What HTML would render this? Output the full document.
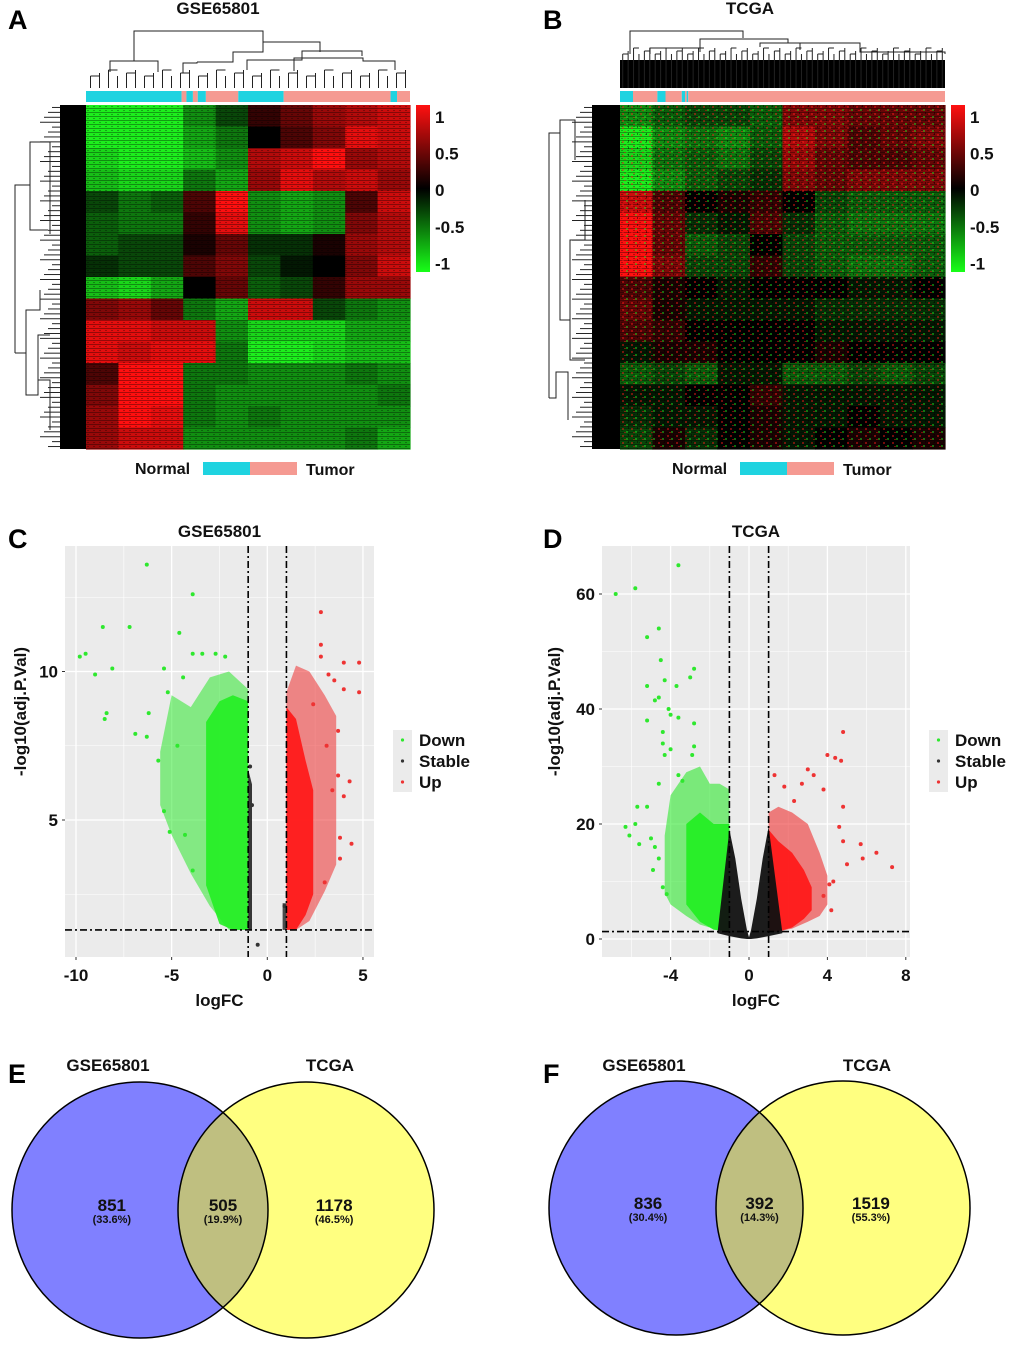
<!DOCTYPE html>
<html><head><meta charset="utf-8"><style>
html,body{margin:0;padding:0;background:#fff}
svg{display:block;font-family:"Liberation Sans",Arial,sans-serif}
.b{font-weight:bold}
</style></head><body>
<svg id="fig" width="1020" height="1347" viewBox="0 0 1020 1347" xmlns="http://www.w3.org/2000/svg">
<defs>
<pattern id="rowTex" width="6" height="4" patternUnits="userSpaceOnUse"><rect x="0" y="0" width="6" height="1" fill="#000" opacity="0.35"/><rect x="3" y="2" width="2" height="1" fill="#000" opacity="0.3"/></pattern>
<pattern id="speck" width="9" height="7" patternUnits="userSpaceOnUse"><rect x="1" y="1" width="2" height="2" fill="#ff1a1a"/><rect x="5" y="4" width="2" height="2" fill="#22ee22"/><rect x="7" y="0" width="1" height="2" fill="#000"/><rect x="3" y="5" width="2" height="1" fill="#ff1a1a"/></pattern>
<linearGradient id="cbar" x1="0" y1="0" x2="0" y2="1"><stop offset="0" stop-color="#ff1010"/><stop offset="0.5" stop-color="#000"/><stop offset="1" stop-color="#18ff18"/></linearGradient>
<clipPath id="clipC"><rect x="65" y="546" width="309" height="411"/></clipPath>
<clipPath id="clipD"><rect x="602" y="546" width="308" height="411"/></clipPath>
</defs>
<g id="root"></g>
</svg>
<script>
// ===== Heatmap data (block-averaged expression, -1..1) =====
const hmA = [
[-1,-1,-1,-0.6,-0.3,0.2,0.4,0.6,0.7,0.8],
[-1,-1,-1,-0.7,-0.5,0,0.3,0.5,0.9,0.8],
[-0.9,-1,-1,-0.8,-0.6,0.7,0.8,1,0.6,0.7],
[-0.8,-0.9,-0.9,-0.5,-0.7,0.6,0.9,0.7,0.8,0.6],
[-0.3,-0.5,-0.4,0.3,1,-0.6,-0.7,-0.6,0.3,0.8],
[-0.4,-0.5,-0.5,0.2,0.9,-0.6,-0.7,-0.6,0.5,0.7],
[-0.4,-0.3,-0.3,0.1,0.4,-0.2,-0.2,0.1,0.6,0.7],
[-0.2,-0.3,-0.3,0.3,0.5,-0.3,-0.1,0,0.5,0.8],
[-0.8,-0.9,-0.7,0,0.4,-0.4,-0.3,0.2,0.6,0.6],
[0.5,0.6,0.4,-0.5,-0.7,0.8,0.8,-0.3,-0.5,-0.6],
[0.9,0.9,0.8,0.8,-0.6,-0.9,-0.9,-0.9,-0.7,-0.7],
[0.9,0.8,0.9,0.9,-0.5,-1,-1,-0.9,-0.8,-0.8],
[0.3,1,1,-0.5,-0.5,-0.6,-0.6,-0.6,-0.5,-0.6],
[0.5,1,1,-0.5,-0.6,-0.6,-0.6,-0.6,-0.6,-0.5],
[0.6,1,0.9,-0.5,-0.6,-0.5,-0.6,-0.6,-0.6,-0.6],
[0.6,0.8,0.8,-0.6,-0.6,-0.6,-0.6,-0.6,-0.5,-0.7]];
const hmB = [
[-0.6,-0.4,-0.3,-0.3,-0.4,0.5,0.5,0.4,0.4,0.4],
[-1,-0.6,-0.5,-0.6,-0.4,0.7,0.5,0.3,0.4,0.5],
[-0.9,-0.5,-0.4,-0.5,-0.3,0.6,0.4,0.3,0.3,0.4],
[-1,-0.6,-0.4,-0.3,-0.2,0.5,0.4,0.5,0.5,0.5],
[0.8,0.3,0,0.1,0.2,0,-0.3,-0.4,-0.4,-0.4],
[1,0.4,-0.2,-0.1,0.3,-0.2,-0.4,-0.5,-0.5,-0.5],
[1,0.4,-0.4,-0.3,0,-0.3,-0.4,-0.4,-0.4,-0.4],
[1,0.5,-0.3,-0.3,0.2,-0.3,-0.4,-0.5,-0.5,-0.4],
[0.3,0.1,0,-0.1,0,0,0,-0.1,-0.1,0],
[0.4,0.1,-0.1,-0.1,-0.1,-0.1,-0.2,-0.2,-0.2,-0.2],
[0.3,0.2,0,0,0,0,-0.1,-0.1,-0.1,-0.1],
[-0.1,0.1,0.1,0,0,0,0.1,0,0,0],
[-0.4,-0.3,-0.4,-0.1,-0.1,-0.4,-0.4,-0.3,-0.4,-0.3],
[-0.1,-0.1,0,0,0.2,-0.1,-0.1,-0.1,-0.1,-0.1],
[-0.2,-0.1,-0.1,0,0.1,-0.1,-0.1,0,-0.1,-0.1],
[-0.3,0.1,-0.2,0,0.1,-0.1,0,0.1,0,0.1]];
// sample group annotation segments: [fraction start, fraction end, group]
const annA = [[0,0.295,"N"],[0.295,0.31,"T"],[0.31,0.33,"N"],[0.33,0.345,"T"],[0.345,0.37,"N"],[0.37,0.47,"T"],[0.47,0.61,"N"],[0.61,0.94,"T"],[0.94,0.96,"N"],[0.96,1,"T"]];
const annB = [[0,0.04,"N"],[0.04,0.115,"T"],[0.115,0.14,"N"],[0.14,0.19,"T"],[0.19,0.2,"N"],[0.2,0.205,"T"],[0.205,0.21,"N"],[0.21,1,"T"]];
const cbTicks = ["1","0.5","0","-0.5","-1"];

// ===== Volcano C data =====
const cDownPts = [[-9.8,10.5],[-9.5,10.6],[-9,9.9],[-8.6,11.5],[-8.5,8.4],[-8.4,8.6],[-8.1,10.1],[-7.2,11.5],[-6.9,7.9],[-6.3,7.8],[-6.2,8.6],[-6.3,13.6],[-5.4,10.1],[-4.6,11.3],[-3.9,12.6],[-3.9,10.6],[-3.4,10.6],[-2.7,10.6],[-2.2,10.5],[-5.2,9.3],[-5.4,5.3],[-5.7,7.0],[-5.1,4.6],[-4.4,9.8],[-4.3,4.5],[-4.7,7.5],[-3.9,3.3]];
const cUpPts = [[2.8,12],[2.8,10.9],[2.8,10.5],[4,10.3],[4.8,10.3],[4.8,9.3],[3.5,9.7],[3.2,9.9],[4,9.4],[3.7,8],[4.3,6.3],[4,5.8],[3.8,4.4],[3.8,3.7],[3,2.9],[4.4,4.2],[3.4,6],[3.7,6.5],[3.1,7.5],[2.4,8.9]];
const cStablePts = [[-0.5,0.8],[-0.9,6.8],[-0.8,5.5],[0.9,2.1]];
// envelopes: [logFC, low, high]
const cDownOuter = [[-5.6,5.5,7.3],[-5,4.5,9.2],[-4,3.2,8.8],[-3,2.1,9.8],[-2,1.3,10],[-1,1.3,9.4]];
const cDownCore = [[-3.2,2.8,8.3],[-2.5,1.5,9.0],[-1.8,1.3,9.2],[-1,1.3,9.0]];
const cUpOuter = [[1,1.3,9.3],[1.5,1.3,10.2],[2.2,1.6,10.0],[3,2.6,9.2],[3.6,3.5,8.5]];
const cUpCore = [[1,1.3,8.8],[1.5,1.3,8.4],[2,1.8,7.0],[2.4,2.5,6.0]];
const cStable = [[-1,1.3,6.7],[-0.8,1.3,6.2]];
const cStable2 = [[0.8,1.3,2.2],[1,1.3,2.2]];
const cXTicks = [-10,-5,0,5];
const cYTicks = [5,10];

// ===== Volcano D data =====
const dDownPts = [[-6.8,60],[-5.8,61],[-3.6,65],[-5.2,52.5],[-4.6,54],[-4.5,48.5],[-2.8,47],[-4.3,45],[-3.7,44],[-5.2,44],[-3,45.5],[-4.6,42],[-4.8,41.5],[-4.1,40],[-4,39],[-5.2,38],[-3.6,38.5],[-2.8,37.5],[-4.4,36],[-4.4,34],[-2.8,33.5],[-4,33],[-2.9,32],[-4.3,32],[-6.3,19.5],[-6.1,18],[-5.8,20],[-5.7,23],[-5.6,16.5],[-5,17.5],[-4.8,16],[-4.6,14],[-4.4,9],[-4.2,7.8],[-4.6,27],[-3.4,27.5],[-3.6,28.5],[-5.2,23],[-4.9,12]];
const dUpPts = [[4.8,36],[4,32],[4.4,31.5],[4.7,31],[3.8,26],[3,29.5],[3.3,28.5],[2.3,24],[1.3,28.5],[5.7,16.5],[5.8,14],[6.5,15],[7.3,12.5],[5,13],[4.8,23],[4.6,19.5],[4.3,10],[3.8,7.5],[4.2,5],[4.1,9.5],[4.8,17],[2.7,27],[1.8,26.5]];
const dDownOuter = [[-4.3,8,18],[-4,6,25],[-3.2,4,29],[-2.5,2.5,30],[-2,2,27],[-1.5,1.5,27],[-1,1.3,26]];
const dDownCore = [[-3.2,6,20],[-2.5,3,22],[-1.8,1.6,20],[-1,1.3,20]];
const dUpOuter = [[1,1.3,22],[1.5,1.3,23],[2.2,1.8,22],[3,3,20],[3.6,4,15],[4,6,11]];
const dUpCore = [[1,1.3,19],[1.5,1.3,17],[2.2,2,15],[2.8,3.5,12],[3.2,5,9]];
const dStableL = [[-1.6,1,1.2],[-1,0.5,19],[-0.7,0.3,14],[-0.4,0.1,7],[-0.1,0,1.5],[0,0,0.3]];
const dStableR = [[0,0,0.3],[0.1,0,1.5],[0.4,0.1,7],[0.7,0.3,14],[1,0.5,19.5],[1.7,1,1.2]];
const dXTicks = [-4,0,4,8];
const dYTicks = [0,20,40,60];

// ===== Venn data =====
const vennE = {left:"GSE65801", right:"TCGA", counts:[851,505,1178], pct:["33.6%","19.9%","46.5%"]};
const vennF = {left:"GSE65801", right:"TCGA", counts:[836,392,1519], pct:["30.4%","14.3%","55.3%"]};

const NS = "http://www.w3.org/2000/svg";
const root = document.getElementById("root");
function mk(tag, attrs, parent){const e=document.createElementNS(NS,tag);for(const k in attrs)e.setAttribute(k,attrs[k]);(parent||root).appendChild(e);return e;}
function txt(x,y,s,size,opts,parent){const o=Object.assign({x:x,y:y,"font-size":size,"font-weight":"bold",fill:"#111"},opts||{});const t=mk("text",o,parent);t.textContent=s;return t;}

function col(v){
  if(v>=0){const r=Math.round(255*Math.min(1,v));return `rgb(${r},${Math.round(r*0.06)},${Math.round(r*0.06)})`;}
  const g=Math.round(238*Math.min(1,-v));return `rgb(${Math.round(g*0.12)},${g},${Math.round(g*0.12)})`;
}

// panel letters
[["A",8,29],["B",543,29],["C",8,548],["D",543,548],["E",8,1083],["F",543,1083]].forEach(p=>{
  const t=txt(p[1],p[2],p[0],27,{fill:"#000"});
  
  
});

function heatmap(id, data, ann, x0, y0, w, h, speckle, cbx, titleX, title, legX){
  const g=mk("g",{});
  
  
  const nr=data.length, nc=data[0].length, cw=w/nc, rh=h/nr;
  data.forEach((row,i)=>row.forEach((v,j)=>{
    const r=mk("rect",{x:(x0+j*cw).toFixed(2),y:(y0+i*rh).toFixed(2),width:(cw+0.6).toFixed(2),height:(rh+0.6).toFixed(2),fill:col(v)},g);
    
    
  }));
  mk("rect",{x:x0,y:y0,width:w,height:h,fill:"url(#rowTex)"},g);
  if(speckle) mk("rect",{x:x0,y:y0,width:w,height:h,fill:"url(#speck)",opacity:0.45},g);
  // annotation bar
  ann.forEach(a=>{
    const r=mk("rect",{x:x0+a[0]*w,y:y0-14,width:(a[1]-a[0])*w,height:11,fill:a[2]=="N"?"#1fd3e0":"#f59a92"},g);
    
    
  });
  // colorbar
  const cb=mk("rect",{x:cbx,y:y0,width:14,height:167,fill:"url(#cbar)"},g);
  
  
  cbTicks.forEach((s,i)=>{const t=txt(cbx+19,y0+18+i*36.6,s,17,{},g);});
  const tt=txt(titleX,y0-91,title,17,{"text-anchor":"middle"},g);
  
  // legend
  const ly=y0+357;
  const l1=txt(legX,ly+12,"Normal",16,{},g);
  mk("rect",{x:legX+68,y:ly,width:47,height:13,fill:"#1fd3e0"},g);
  mk("rect",{x:legX+115,y:ly,width:47,height:13,fill:"#f59a92"},g);
  const l2=txt(legX+171,ly+13,"Tumor",16,{},g);
  return g;
}
heatmap("heatmap-gse65801",hmA,annA,86,105,324,344,false,416,218,"GSE65801",135);
heatmap("heatmap-tcga",hmB,annB,620,105,325,344,true,951,750,"TCGA",672);

// dendrograms
function colDendro(x0,w,yBot,dense,gname){
  const g=mk("g",{stroke:"#222","stroke-width":1,fill:"none"});
  
  if(dense){ mk("rect",{x:x0,y:yBot-28,width:w,height:28,fill:"#000",stroke:"none"},g); }
  const n=dense?60:36;
  for(let i=0;i<n;i++){const x=x0+(i+0.5)*w/n;mk("path",{d:`M${x} ${yBot} V${yBot-(dense?34:12)-(i%3)*3}`},g);}
  for(let i=0;i<n;i+=2){const x=x0+(i+0.5)*w/n,x2=x0+(i+1.5)*w/n,yy=yBot-(dense?34:12)-(i%3)*3;mk("path",{d:`M${x} ${yy} H${x2}`},g);}
  return g;
}
const dA=colDendro(86,324,88,false,"column-dendrogram-a");
[["M110 72 V61 H158 V72","M134 61 V31 H263 V50","M197 62 H233 V52 H263 V42 H320 V52","M183 73 V63 H197 V62","M247 70 V60 H302 V51 H362 V56","M294 71 V58 H363 V61 H395 V70"]].flat().forEach(d=>mk("path",{d:d},dA));
const dB=colDendro(620,325,88,true,"column-dendrogram-b");
["M630 54 V31 H743 V38","M700 52 V39 H788 V43 H800 V50","M760 47 V43 H860 V52 H945 V54","M650 54 V48 H700"].forEach(d=>mk("path",{d:d},dB));
function rowDendro(xL,xBlk,y0,h,gname,splits){
  const g=mk("g",{stroke:"#222","stroke-width":1,fill:"none"});
  
  mk("rect",{x:xBlk,y:y0,width:(xBlk<300?86:620)-xBlk,height:h,fill:"#000",stroke:"none"},g);
  for(let i=0;i<70;i++){const y=y0+(i+0.5)*h/70;mk("path",{d:`M${xBlk-8-(i%4)*4} ${y} H${xBlk}`},g);}
  splits.forEach(d=>mk("path",{d:d},g));
}
rowDendro(14,60,105,344,"row-dendrogram-a",["M15 353 V185 H30 V142 H50 V234","M30 185 V230 H48","M15 353 H26 V310 H40 V290","M26 310 V395 H38 V380 H50 V430","M38 380 V335 H50"]);
rowDendro(548,592,105,344,"row-dendrogram-b",["M549 398 V133 H560 V120 H575 V160","M560 133 V320 H570 V240 H585 V200","M570 320 V360 H585","M549 398 H556 V372 H568 V420"]);

// ===== Volcano plots =====
function volcano(o){
  const g=mk("g",{});
  
  const X=v=>o.x0+(v-o.xv0)*o.xs, Y=v=>o.y0-(v-o.yv0)*o.ys;
  const bg=mk("rect",{x:o.px,y:o.py,width:o.pw,height:o.ph,fill:"#ebebeb"},g);
  
  o.xMinor.forEach(v=>mk("line",{x1:X(v),x2:X(v),y1:o.py,y2:o.py+o.ph,stroke:"#fff","stroke-width":0.6},g));
  o.yMinor.forEach(v=>mk("line",{x1:o.px,x2:o.px+o.pw,y1:Y(v),y2:Y(v),stroke:"#fff","stroke-width":0.6},g));
  o.xTicks.forEach(v=>{mk("line",{x1:X(v),x2:X(v),y1:o.py,y2:o.py+o.ph,stroke:"#fff","stroke-width":1.3},g);
    mk("line",{x1:X(v),x2:X(v),y1:o.py+o.ph,y2:o.py+o.ph+3,stroke:"#333"},g);
    const t=txt(X(v),o.py+o.ph+24,String(v),17,{"text-anchor":"middle"},g);});
  o.yTicks.forEach(v=>{mk("line",{x1:o.px,x2:o.px+o.pw,y1:Y(v),y2:Y(v),stroke:"#fff","stroke-width":1.3},g);
    mk("line",{x1:o.px-3,x2:o.px,y1:Y(v),y2:Y(v),stroke:"#333"},g);
    const t=txt(o.px-7,Y(v)+6,String(v),17,{"text-anchor":"end"},g);});
  const cg=mk("g",{"clip-path":`url(#${o.clip})`},g);
  function env(arr,fill,op,name){
    const top=arr.map(p=>`${X(p[0]).toFixed(1)},${Y(p[2]).toFixed(1)}`);
    const bot=arr.slice().reverse().map(p=>`${X(p[0]).toFixed(1)},${Y(p[1]).toFixed(1)}`);
    const pg=mk("polygon",{points:top.concat(bot).join(" "),fill:fill,opacity:op},cg);
    
  }
  o.env.forEach(e=>env(e[0],e[1],e[2],e[3]));
  function pts(arr,fill,name){arr.forEach(p=>{const c=mk("circle",{cx:X(p[0]).toFixed(1),cy:Y(p[1]).toFixed(1),r:2,fill:fill},cg);
    });}
  pts(o.down,"#2ee82e","down-point");pts(o.up,"#ee3333","up-point");pts(o.stable||[],"#333","stable-point");
  const dash="7,3,2,3";
  [-1,1].forEach(v=>{const l=mk("line",{x1:X(v),x2:X(v),y1:o.py,y2:o.py+o.ph,stroke:"#000","stroke-width":1.6,"stroke-dasharray":dash},g);});
  const hl=mk("line",{x1:o.px,x2:o.px+o.pw,y1:Y(1.3),y2:Y(1.3),stroke:"#000","stroke-width":1.6,"stroke-dasharray":dash},g);
  
  const tt=txt(o.px+o.pw/2,o.py-9,o.title,17,{"text-anchor":"middle"},g);
  const xt=txt(o.px+o.pw/2,o.py+o.ph+49,"logFC",17,{"text-anchor":"middle"},g);
  const yt=txt(0,0,"-log10(adj.P.Val)",17,{"text-anchor":"middle",transform:`translate(${o.ytx},${o.py+o.ph/2-40}) rotate(-90)`},g);
  
  // legend
  const lg=mk("g",{},g);
  mk("rect",{x:o.lx,y:730,width:19,height:62,fill:"#ebebeb"},lg);
  [["Down","#2ee82e"],["Stable","#333"],["Up","#ee3333"]].forEach((e,i)=>{
    mk("circle",{cx:o.lx+9.5,cy:740+i*21,r:1.6,fill:e[1]},lg);
    const t=txt(o.lx+26,746+i*21,e[0],17,{},lg);
  });
}
volcano({name:"volcano-gse65801",title:"GSE65801",px:65,py:546,pw:309,ph:411,x0:76,xv0:-10,xs:19.13,y0:820,yv0:5,ys:29.7,
  xTicks:cXTicks,yTicks:cYTicks,xMinor:[-7.5,-2.5,2.5],yMinor:[2.5,7.5,12.5],clip:"clipC",ytx:26,lx:393,
  env:[[cDownOuter,"#2ee82e",0.55,"down-cloud"],[cDownCore,"#22ee22",0.9,"down-cloud-core"],[cUpOuter,"#ee3030",0.55,"up-cloud"],[cUpCore,"#ff1a1a",0.95,"up-cloud-core"],[cStable,"#222",0.9,"stable-cloud"],[cStable2,"#222",0.8,"stable-cloud"]],
  down:cDownPts,up:cUpPts,stable:cStablePts});
volcano({name:"volcano-tcga",title:"TCGA",px:602,py:546,pw:308,ph:411,x0:749,xv0:0,xs:19.6,y0:939,yv0:0,ys:5.75,
  xTicks:dXTicks,yTicks:dYTicks,xMinor:[-6,-2,2,6],yMinor:[10,30,50],clip:"clipD",ytx:560,lx:929,
  env:[[dDownOuter,"#2ee82e",0.6,"down-cloud"],[dDownCore,"#22ee22",0.92,"down-cloud-core"],[dUpOuter,"#ee3030",0.6,"up-cloud"],[dUpCore,"#ff1a1a",0.95,"up-cloud-core"],[dStableL,"#111",0.95,"stable-cloud"],[dStableR,"#111",0.95,"stable-cloud"]],
  down:dDownPts,up:dUpPts});

// ===== Venn =====
function venn(name,d,cx1,cx2,cy,r,titY){
  const g=mk("g",{});
  const c1=mk("circle",{cx:cx1,cy:cy,r:r,fill:"#8080ff"},g);
  const c2=mk("circle",{cx:cx2,cy:cy,r:r,fill:"#ffff80"},g);
  const cp=mk("clipPath",{id:name+"-clip"},g);mk("circle",{cx:cx1,cy:cy,r:r},cp);
  const ov=mk("circle",{cx:cx2,cy:cy,r:r,fill:"#bfbf80","clip-path":`url(#${name}-clip)`},g);
  mk("circle",{cx:cx1,cy:cy,r:r,fill:"none",stroke:"#000","stroke-width":1.5},g);
  mk("circle",{cx:cx2,cy:cy,r:r,fill:"none",stroke:"#000","stroke-width":1.5},g);
  const mid=(cx1+cx2)/2, xs=[cx1-r*0.22, mid, cx2+r*0.22];
  d.counts.forEach((c,i)=>{
    const t=txt(xs[i],cy+1,String(c),17,{"text-anchor":"middle"},g);
    const p=txt(xs[i],cy+13,"("+d.pct[i]+")",11,{"text-anchor":"middle"},g);
  });
  const t1=txt(cx1-32,titY,d.left,17,{"text-anchor":"middle"},g);
  const t2=txt(cx2+24,titY,d.right,17,{"text-anchor":"middle"},g);
}
venn("venn-e",vennE,140,306,1210,128,1071);
venn("venn-f",vennF,676,843,1208,127,1071);
</script>
</body></html>
